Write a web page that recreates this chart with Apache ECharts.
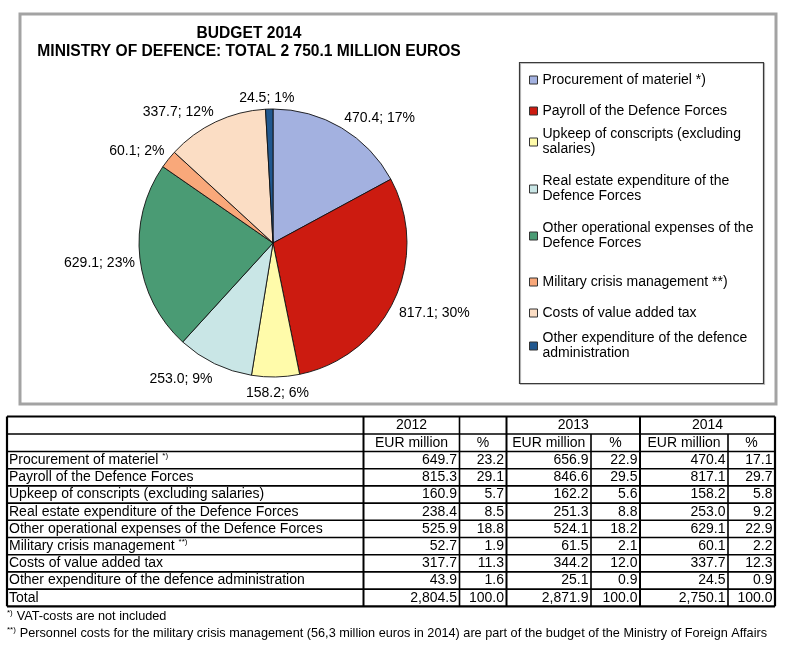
<!DOCTYPE html>
<html>
<head>
<meta charset="utf-8">
<script src="https://cdn.jsdelivr.net/npm/echarts@6/dist/echarts.min.js"></script>
<style>
  html, body { margin: 0; padding: 0; background: #fff; }
  #chart { width: 790px; height: 653px; }
</style>
</head>
<body>
<div id="chart"></div>
<script>
// ---------- DATA ----------
const legendLabels = [
  'Procurement of materiel *)',
  'Payroll of the Defence Forces',
  'Upkeep of conscripts (excluding\nsalaries)',
  'Real estate expenditure of the\nDefence Forces',
  'Other operational expenses of the\nDefence Forces',
  'Military crisis management **)',
  'Costs of value added tax',
  'Other expenditure of the defence\nadministration'
];
const tableLabels = [
  'Procurement of materiel',
  'Payroll of the Defence Forces',
  'Upkeep of conscripts (excluding salaries)',
  'Real estate expenditure of the Defence Forces',
  'Other operational expenses of the Defence Forces',
  'Military crisis management',
  'Costs of value added tax',
  'Other expenditure of the defence administration',
  'Total'
];
const tableNotes = ['*)', '', '', '', '', '**)', '', '', ''];
const years = ['2012', '2013', '2014'];
const values2012 = [649.7, 815.3, 160.9, 238.4, 525.9, 52.7, 317.7, 43.9, 2804.5];
const pct2012    = [23.2, 29.1, 5.7, 8.5, 18.8, 1.9, 11.3, 1.6, 100.0];
const values2013 = [656.9, 846.6, 162.2, 251.3, 524.1, 61.5, 344.2, 25.1, 2871.9];
const pct2013    = [22.9, 29.5, 5.6, 8.8, 18.2, 2.1, 12.0, 0.9, 100.0];
const values2014 = [470.4, 817.1, 158.2, 253.0, 629.1, 60.1, 337.7, 24.5, 2750.1];
const pct2014    = [17.1, 29.7, 5.8, 9.2, 22.9, 2.2, 12.3, 0.9, 100.0];
const footnotes = [
  ['*)', 'VAT-costs are not included'],
  ['**)', 'Personnel costs for the military crisis management (56,3 million euros in 2014) are part of the budget of the Ministry of Foreign Affairs']
];
const titleText = 'BUDGET 2014\nMINISTRY OF DEFENCE: TOTAL 2 750.1 MILLION EUROS';

// ---------- STYLE / LAYOUT ----------
const palette = ['#a3b1e0', '#cc1b10', '#fffbaa', '#c9e6e6', '#4a9b74', '#f9a87a', '#fbddc4', '#21588f'];
const FONT = '"Liberation Sans", Arial, Helvetica, sans-serif';
const PIE_CX = 273, PIE_CY = 243, PIE_R = 134;
const legendIconY = [80, 111, 142, 189, 236, 282, 313, 346];
const colEdges = [7, 363.5, 459.5, 506.5, 591, 640, 728, 775];
const TABLE_TOP = 416.5, HEAD_H = 17.5, ROW_H = 17.2;

const chart = echarts.init(document.getElementById('chart'), null, { renderer: 'canvas' });

const nItems = legendLabels.length;
const pieValues = values2014.slice(0, nItems);
const pieTotal = pieValues.reduce((a, b) => a + b, 0);
const midAngles = [];
(function () { let acc = 0; pieValues.forEach(v => { midAngles.push((acc + v / 2) / pieTotal * 2 * Math.PI); acc += v; }); })();
const clamp = v => Math.max(-1, Math.min(1, v));

// legends (one per item so that wrapped names line up with their icon)
const legends = legendLabels.map((name, i) => {
  const twoLines = name.indexOf('\n') >= 0;
  return {
    data: [name],
    orient: 'vertical',
    left: 529,
    top: legendIconY[i] - (twoLines ? 22.5 : 7.5),
    padding: 0,
    icon: 'rect',
    itemWidth: 8,
    itemHeight: 8,
    selectedMode: false,
    itemStyle: { borderColor: '#333', borderWidth: 1 },
    textStyle: {
      fontFamily: FONT, fontSize: 14, lineHeight: 15, color: '#000',
      padding: twoLines ? [15, 0, 0, 0] : 0
    }
  };
});

// ---------- FRAME + TABLE (graphic) ----------
const graphics = [];
graphics.push({ type: 'rect', z: 0, shape: { x: 20, y: 14, width: 756, height: 390 },
  style: { fill: 'none', stroke: '#a3a3a3', lineWidth: 3 } });
graphics.push({ type: 'rect', z: 1, shape: { x: 519.5, y: 62.5, width: 244, height: 321 },
  style: { fill: 'none', stroke: '#3a3a3a', lineWidth: 1.2, shadowColor: 'rgba(0,0,0,0.25)', shadowOffsetX: 1, shadowOffsetY: 1 } });

const nRows = tableLabels.length;
const rowEdges = [TABLE_TOP, TABLE_TOP + HEAD_H, TABLE_TOP + 2 * HEAD_H];
for (let i = 0; i < nRows; i++) rowEdges.push(rowEdges[rowEdges.length - 1] + ROW_H);
const tBottom = rowEdges[rowEdges.length - 1];
const L = colEdges[0], R = colEdges[colEdges.length - 1];
function line(x1, y1, x2, y2, w) {
  graphics.push({ type: 'line', z: 5, shape: { x1, y1, x2, y2 }, style: { stroke: '#000', lineWidth: w } });
}
rowEdges.forEach((y, i) => line(L, y, R, y, (i === 0 || i === rowEdges.length - 1) ? 2.2 : 1.6));
line(L, TABLE_TOP, L, tBottom, 2.2);
line(R, TABLE_TOP, R, tBottom, 2.2);
line(colEdges[1], TABLE_TOP, colEdges[1], tBottom, 2);
line(colEdges[2], TABLE_TOP, colEdges[2], tBottom, 1.6);
line(colEdges[3], TABLE_TOP, colEdges[3], tBottom, 2);
line(colEdges[4], rowEdges[1], colEdges[4], tBottom, 1.6);
line(colEdges[5], TABLE_TOP, colEdges[5], tBottom, 2);
line(colEdges[6], rowEdges[1], colEdges[6], tBottom, 1.6);

function txt(x, y, text, align, extra) {
  graphics.push({ type: 'text', z: 6, x, y,
    style: Object.assign({ text, fontFamily: FONT, fontSize: 14, fill: '#000', align, verticalAlign: 'middle' }, extra || {}) });
}
const rc = i => (rowEdges[i] + rowEdges[i + 1]) / 2;
txt((colEdges[1] + colEdges[2]) / 2, rc(0), years[0], 'center');
txt((colEdges[3] + colEdges[5]) / 2, rc(0), years[1], 'center');
txt((colEdges[5] + colEdges[7]) / 2, rc(0), years[2], 'center');
for (let k = 0; k < 3; k++) {
  const a = colEdges[1 + 2 * k], b = colEdges[2 + 2 * k], c = colEdges[3 + 2 * k];
  txt((a + b) / 2, rc(1), 'EUR million', 'center');
  txt((b + c) / 2, rc(1), '%', 'center');
}
const fmtNum = v => v.toLocaleString('en-US', { minimumFractionDigits: 1, maximumFractionDigits: 1 });
const cols = [values2012, pct2012, values2013, pct2013, values2014, pct2014];
for (let i = 0; i < nRows; i++) {
  const y = rc(i + 2);
  if (tableNotes[i]) {
    txt(9, y, '{n|' + tableLabels[i] + ' }{s|' + tableNotes[i] + '}', 'left', {
      rich: { n: { fontFamily: FONT, fontSize: 14, lineHeight: 16, fill: '#000' },
              s: { fontFamily: FONT, fontSize: 8, lineHeight: 16, verticalAlign: 'top', fill: '#000' } } });
  } else {
    txt(9, y, tableLabels[i], 'left');
  }
  cols.forEach((arr, k) => txt(colEdges[2 + k] - 2.5, y, fmtNum(arr[i]), 'right'));
}
const footY = [616, 633];
footnotes.forEach((f, i) => {
  txt(7, footY[i], '{s|' + f[0] + '} {n|' + f[1] + '}', 'left', {
    rich: { n: { fontFamily: FONT, fontSize: 12.7, lineHeight: 15, fill: '#000' },
            s: { fontFamily: FONT, fontSize: 8, lineHeight: 15, verticalAlign: 'top', fill: '#000' } } });
});

// ---------- OPTION ----------
const option = {
  backgroundColor: '#fff',
  animation: false,
  title: {
    text: titleText,
    left: 249,
    top: 25,
    textAlign: 'center',
    padding: 0,
    textStyle: { fontFamily: '"Liberation Sans Narrow", "Arial Narrow", ' + FONT, fontWeight: 'bold', fontSize: 15.6, lineHeight: 17.5, color: '#000' }
  },
  legend: legends,
  graphic: graphics,
  series: [{
    type: 'pie',
    center: [PIE_CX, PIE_CY],
    radius: PIE_R,
    startAngle: 90,
    clockwise: true,
    avoidLabelOverlap: false,
    emphasis: { disabled: true },
    itemStyle: { borderColor: '#111', borderWidth: 0.9 },
    label: {
      show: true, position: 'outside', fontFamily: FONT, fontSize: 14, color: '#000',
      formatter: p => p.value.toFixed(1) + '; ' + Math.round(p.percent) + '%'
    },
    labelLine: { show: false, length: 5, length2: 0 },
    labelLayout: function (p) {
      const t = midAngles[p.dataIndex];
      const s = Math.sin(t), c = Math.cos(t);
      const w = p.labelRect.width, h = p.labelRect.height;
      const rr = PIE_R + 5;
      const k = clamp(3 * c);
      return {
        x: PIE_CX + rr * s + w / 2 * clamp(3 * s),
        y: PIE_CY - rr * c - h / 2 * k + 1.5 + (k < 0 ? -2.5 * k : 0),
        align: 'center', verticalAlign: 'middle'
      };
    },
    data: legendLabels.map((name, i) => ({ name, value: pieValues[i], itemStyle: { color: palette[i] } }))
  }]
};
chart.setOption(option);
</script>
</body>
</html>
